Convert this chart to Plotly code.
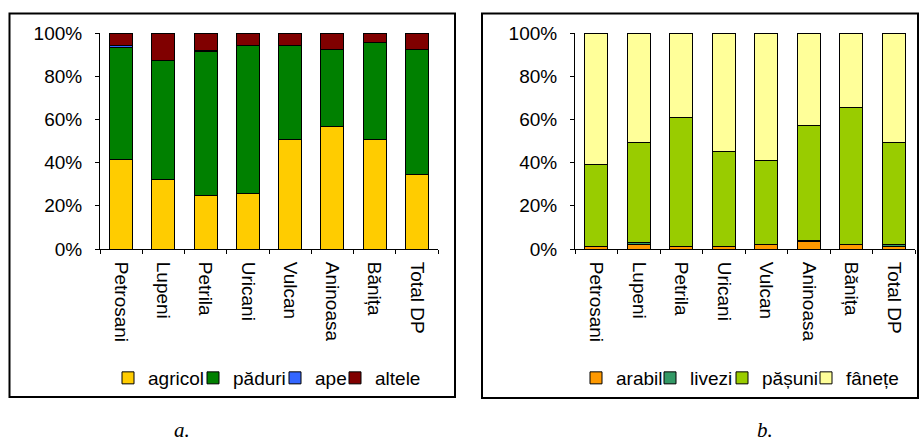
import plotly.graph_objects as go
from plotly.subplots import make_subplots

localities = ["Petrosani", "Lupeni", "Petrila", "Uricani", "Vulcan", "Aninoasa", "Bănița", "Total DP"]

# land use structure (%)
agricol = [41.5, 32.3, 24.9, 25.8, 50.9, 56.6, 50.9, 34.3]
paduri = [51.7, 54.9, 66.6, 68.3, 43.2, 35.7, 44.6, 58.0]
ape = [1.0, 0.3, 0.2, 0.2, 0.2, 0.2, 0.2, 0.2]
altele = [5.8, 12.5, 8.3, 5.7, 5.7, 7.5, 4.3, 7.5]

# agricultural land structure (%)
arabil = [1.0, 2.3, 1.0, 1.0, 2.0, 3.7, 2.0, 1.0]
livezi = [0.3, 0.9, 0.3, 0.3, 0.2, 0.3, 0.2, 0.9]
pasuni = [38.0, 46.3, 59.8, 44.0, 38.8, 53.0, 63.2, 47.6]
fanete = [60.7, 50.5, 38.9, 54.7, 59.0, 43.0, 34.6, 50.5]

FONT = "Liberation Sans, Arial, sans-serif"
FS = 19
W, H = 919, 441

fig = make_subplots(rows=1, cols=2)

left_series = [("agricol", agricol, "#FFCC00"), ("păduri", paduri, "#008000"),
               ("ape", ape, "#3366FF"), ("altele", altele, "#800000")]
right_series = [("arabil", arabil, "#FF9900"), ("livezi", livezi, "#339966"),
                ("pășuni", pasuni, "#99CC00"), ("fânețe", fanete, "#FFFF99")]

# x position (px) where each legend label text begins
legend_text_x = [148, 233, 315, 375, 616, 690, 762, 846]

legend_ids = ["legend"] + [f"legend{i}" for i in range(2, 9)]
k = 0
for col, series in ((1, left_series), (2, right_series)):
    for name, vals, color in series:
        fig.add_trace(go.Bar(x=localities, y=vals, name=name, showlegend=True,
                             marker=dict(color=color, line=dict(color="black", width=1)),
                             legend=legend_ids[k]), row=1, col=col)
        k += 1

axis_common = dict(showline=True, linecolor="black", linewidth=1, ticks="outside", tickcolor="black",
                   ticklen=4, showgrid=False, zeroline=False, automargin=False,
                   tickfont=dict(family=FONT, size=FS, color="black"))

fig.update_xaxes(**axis_common, tickangle=90, tickson="boundaries", ticklabelstandoff=8)
fig.update_yaxes(**axis_common, range=[0, 100], dtick=20, ticksuffix="%", ticklabelstandoff=9)

ydom = [1 - 249 / H, 1 - 33 / H]

legends = {}
for lid, tx in zip(legend_ids, legend_text_x):
    legends[lid] = dict(orientation="h", x=(tx - 40) / W, xanchor="left", y=1 - 378 / H, yanchor="middle",
                        font=dict(family=FONT, size=FS, color="black"), bgcolor="rgba(0,0,0,0)",
                        borderwidth=0, visible=True)

fig.update_layout(
    width=W, height=H, margin=dict(l=0, r=0, t=0, b=0, autoexpand=False),
    paper_bgcolor="white", plot_bgcolor="white", showlegend=True,
    barmode="stack", barnorm="percent", bargap=0.455,
    font=dict(family=FONT, size=FS, color="black"),
    xaxis=dict(domain=[100 / W, 438 / W]),
    xaxis2=dict(domain=[575 / W, 915 / W]),
    yaxis=dict(domain=ydom),
    yaxis2=dict(domain=ydom),
    shapes=[
        dict(type="rect", xref="paper", yref="paper", x0=9.5 / W, x1=455 / W, y0=1 - 397 / H, y1=1 - 13.5 / H,
             line=dict(color="black", width=2), layer="below"),
        dict(type="rect", xref="paper", yref="paper", x0=482 / W, x1=918 / W, y0=1 - 398 / H, y1=1 - 13.5 / H,
             line=dict(color="black", width=2), layer="below"),
    ],
    annotations=[
        dict(text="a.", x=182 / W, y=1 - 430 / H, xref="paper", yref="paper", showarrow=False,
             xanchor="center", yanchor="middle",
             font=dict(family="Liberation Serif, Times New Roman, serif", size=21, style="italic")),
        dict(text="b.", x=765 / W, y=1 - 430 / H, xref="paper", yref="paper", showarrow=False,
             xanchor="center", yanchor="middle",
             font=dict(family="Liberation Serif, Times New Roman, serif", size=21, style="italic")),
    ],
    **legends,
)

fig.write_html("out.html")
